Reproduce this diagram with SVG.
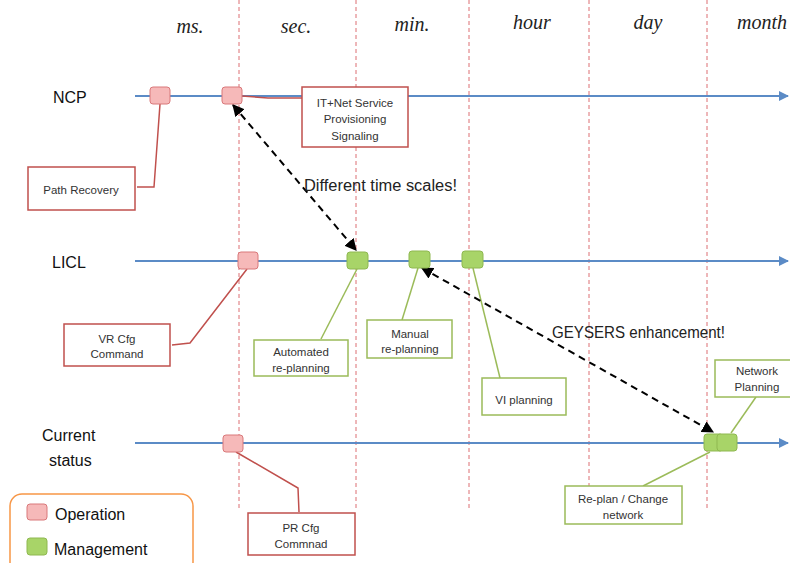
<svg xmlns="http://www.w3.org/2000/svg" width="790" height="563" viewBox="0 0 790 563">
<style>
.vd{stroke:#dc6e72;stroke-width:1;stroke-dasharray:4,3;fill:none}
.tl{stroke:#5b8bc6;stroke-width:2;fill:none}
.hd{font-family:"Liberation Serif",serif;font-style:italic;font-size:20px;fill:#222;text-anchor:middle}
.lb{font-family:"Liberation Sans",Arial,sans-serif;font-size:16px;fill:#111}
.bt{font-family:"Liberation Sans",Arial,sans-serif;font-size:11.5px;fill:#333;text-anchor:middle}
.rb{fill:#fff;stroke:#c0504d;stroke-width:1.5}
.gb{fill:#fff;stroke:#9bbb59;stroke-width:1.5}
.rc{fill:none;stroke:#c0504d;stroke-width:1.5}
.gc{fill:none;stroke:#9bbb59;stroke-width:1.5}
.op{fill:#f6b9b9;stroke:#d9787a;stroke-width:1}
.mg{fill:#a8d468;stroke:#8fb850;stroke-width:1}
.da{stroke:#000;stroke-width:2;stroke-dasharray:7,5;fill:none;marker-start:url(#ah);marker-end:url(#ah)}
.note{font-family:"Liberation Sans",Arial,sans-serif;fill:#222}
</style>
<defs>
<marker id="ah" viewBox="0 0 10 10" refX="9" refY="5" markerWidth="6" markerHeight="6" orient="auto-start-reverse"><path d="M0,0 L10,5 L0,10 z" fill="#000"/></marker>
<marker id="ba" viewBox="0 0 10 10" refX="9" refY="5" markerWidth="5" markerHeight="5" orient="auto"><path d="M0,0 L10,5 L0,10 z" fill="#5b8bc6"/></marker>
</defs>
<rect width="790" height="563" fill="#fff"/>
<g id="grid">
<line class="vd" x1="239" y1="0" x2="239" y2="510"/>
<line class="vd" x1="356" y1="0" x2="356" y2="510"/>
<line class="vd" x1="469" y1="0" x2="469" y2="510"/>
<line class="vd" x1="589" y1="0" x2="589" y2="510"/>
<line class="vd" x1="707" y1="0" x2="707" y2="510"/>
</g>
<g id="headers">
<text class="hd" x="190" y="33">ms.</text>
<text class="hd" x="296" y="33">sec.</text>
<text class="hd" x="412" y="31">min.</text>
<text class="hd" x="532" y="29">hour</text>
<text class="hd" x="648" y="29">day</text>
<text class="hd" x="762" y="29">month</text>
</g>
<g id="timelines">
<line class="tl" x1="135" y1="96" x2="788" y2="96" marker-end="url(#ba)"/>
<line class="tl" x1="135" y1="261" x2="788" y2="261" marker-end="url(#ba)"/>
<line class="tl" x1="135" y1="443" x2="788" y2="443" marker-end="url(#ba)"/>
<text class="lb" x="53" y="103">NCP</text>
<text class="lb" x="52" y="268">LICL</text>
<text class="lb" x="42" y="441">Current</text>
<text class="lb" x="49" y="466">status</text>
</g>
<g id="connectors">
<polyline class="rc" points="160,104 154,187 137,187"/>
<polyline class="rc" points="242,96 268,98 302,98"/>
<polyline class="rc" points="247,269 190,343 172,345"/>
<polyline class="rc" points="236,452 298,488 299,512"/>
<line class="gc" x1="357" y1="269" x2="321" y2="339"/>
<line class="gc" x1="418" y1="268" x2="402" y2="320"/>
<line class="gc" x1="473" y1="268" x2="500" y2="378"/>
<line class="gc" x1="731" y1="433" x2="756" y2="397"/>
<line class="gc" x1="710" y1="452" x2="643" y2="486"/>
<path class="da" d="M233,105 L356,250"/>
<path class="da" d="M422,268 L713,432"/>
</g>
<g id="notes">
<text class="note" x="304" y="191" font-size="16" textLength="153" lengthAdjust="spacingAndGlyphs">Different time scales!</text>
<text class="note" x="552" y="338" font-size="17" textLength="173" lengthAdjust="spacingAndGlyphs">GEYSERS enhancement!</text>
</g>
<g id="ncp-op1"><rect class="op" x="150" y="87" width="20" height="17" rx="3"/></g>
<g id="ncp-op2"><rect class="op" x="222" y="87" width="20" height="17" rx="3"/></g>
<g id="licl-op"><rect class="op" x="238" y="252" width="20" height="17" rx="3"/></g>
<g id="licl-mg1"><rect class="mg" x="347" y="252" width="21" height="17" rx="3"/></g>
<g id="licl-mg2"><rect class="mg" x="409" y="251" width="21" height="17" rx="3"/></g>
<g id="licl-mg3"><rect class="mg" x="462" y="251" width="21" height="17" rx="3"/></g>
<g id="cur-op"><rect class="op" x="223" y="435" width="20" height="17" rx="3"/></g>
<g id="cur-mg1"><rect class="mg" x="704" y="434" width="19" height="17" rx="3"/></g>
<g id="cur-mg2"><rect class="mg" x="717" y="434" width="20" height="17" rx="3"/></g>
<g id="it-net">
<rect class="rb" x="302" y="87" width="106" height="60"/>
<text class="bt" x="355" y="107">IT+Net Service</text>
<text class="bt" x="355" y="123">Provisioning</text>
<text class="bt" x="355" y="140">Signaling</text>
</g>
<g id="path-recovery">
<rect class="rb" x="28" y="167" width="107" height="43"/>
<text class="bt" x="81" y="194" font-size="11">Path Recovery</text>
</g>
<g id="vr-cfg">
<rect class="rb" x="64" y="324" width="106" height="42"/>
<text class="bt" x="117" y="343" font-size="11">VR Cfg</text>
<text class="bt" x="117" y="358" font-size="11">Command</text>
</g>
<g id="pr-cfg">
<rect class="rb" x="248" y="513" width="107" height="42"/>
<text class="bt" x="301" y="532" font-size="11">PR Cfg</text>
<text class="bt" x="301" y="548" font-size="11">Commnad</text>
</g>
<g id="automated">
<rect class="gb" x="254" y="340" width="94" height="36"/>
<text class="bt" x="301" y="356">Automated</text>
<text class="bt" x="301" y="372">re-planning</text>
</g>
<g id="manual">
<rect class="gb" x="367" y="320" width="85" height="38"/>
<text class="bt" x="410" y="338">Manual</text>
<text class="bt" x="410" y="353">re-planning</text>
</g>
<g id="vi-planning">
<rect class="gb" x="482" y="378" width="84" height="37"/>
<text class="bt" x="524" y="404">VI planning</text>
</g>
<g id="network-planning">
<rect class="gb" x="715" y="360" width="78" height="37"/>
<text class="bt" x="757" y="375">Network</text>
<text class="bt" x="757" y="391">Planning</text>
</g>
<g id="replan">
<rect class="gb" x="565" y="486" width="117" height="38"/>
<text class="bt" x="623" y="503">Re-plan / Change</text>
<text class="bt" x="623" y="519">network</text>
</g>
<g id="legend">
<rect x="10" y="494" width="183" height="80" rx="12" fill="#fff" stroke="#f79646" stroke-width="1.5"/>
<rect class="op" x="27" y="504" width="20" height="16" rx="3"/>
<text class="lb" x="55" y="520" font-size="17">Operation</text>
<rect class="mg" x="27" y="538" width="20" height="17" rx="3"/>
<text class="lb" x="54" y="555" font-size="17">Management</text>
</g>
</svg>
